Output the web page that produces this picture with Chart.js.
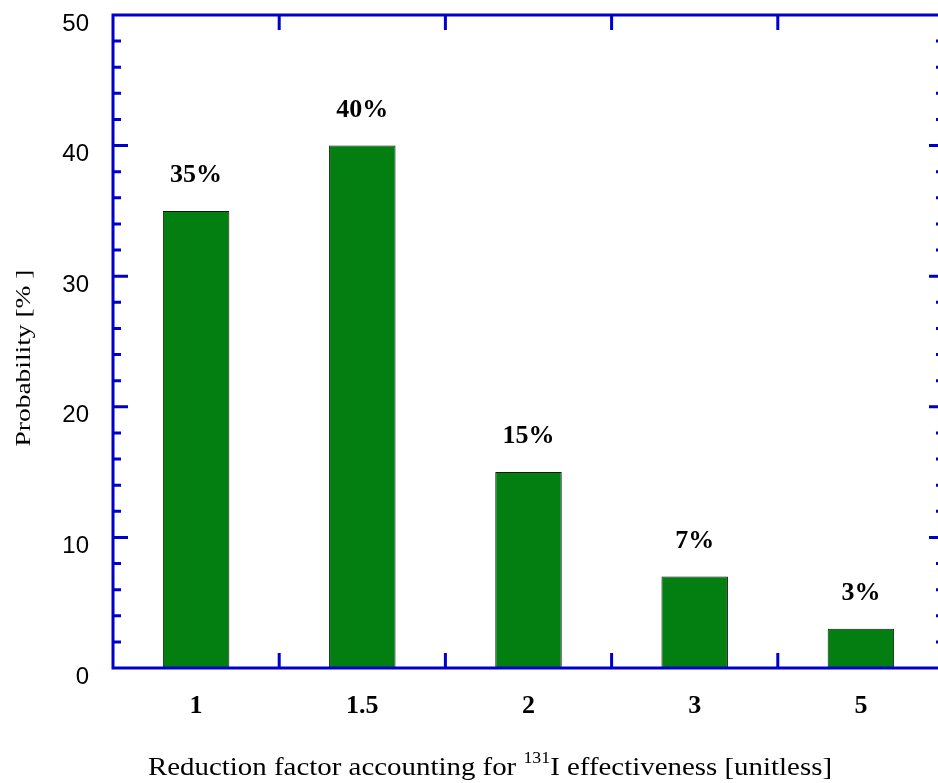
<!DOCTYPE html>
<html>
<head>
<meta charset="utf-8">
<script src="https://cdn.jsdelivr.net/npm/chart.js@4/dist/chart.umd.min.js"></script>
<style>
  html, body { margin: 0; padding: 0; overflow: hidden; background: #fff; }
  #wrap { width: 950px; height: 783px; position: relative; }
</style>
</head>
<body>
<div id="wrap"><canvas id="c" width="950" height="783"></canvas></div>
<script>
// Reduction factor categories and their probabilities (%)
const categories = ['1', '1.5', '2', '3', '5'];
const probability = [35, 40, 15, 7, 3];
const yMajorStep = 10;
const yMinorStep = 2;
const yMin = 0;
const yMax = 50;

const AXIS_BLUE = '#0000cc';
const BAR_GREEN = '#037f11';

// Blue box frame with inward major/minor ticks on all four sides
const framePlugin = {
  id: 'frame',
  afterDatasetsDraw(chart) {
    const { ctx, chartArea: a, scales: { x, y } } = chart;
    ctx.save();
    ctx.strokeStyle = AXIS_BLUE;
    ctx.lineWidth = 3;
    ctx.lineCap = 'butt';
    ctx.beginPath();
    ctx.moveTo(a.left, a.top); ctx.lineTo(a.right, a.top);
    ctx.moveTo(a.left, a.bottom); ctx.lineTo(a.right, a.bottom);
    ctx.moveTo(a.left, a.top - 1.5); ctx.lineTo(a.left, a.bottom + 1.5);
    ctx.moveTo(a.right, a.top - 1.5); ctx.lineTo(a.right, a.bottom + 1.5);
    // y ticks: major every 10, minor every 2
    for (let v = yMin; v <= yMax + 1e-9; v += yMinorStep) {
      const py = y.getPixelForValue(v);
      const major = Math.abs(v % yMajorStep) < 1e-9;
      const len = major ? 15 : 8;
      ctx.moveTo(a.left, py); ctx.lineTo(a.left + len, py);
      ctx.moveTo(a.right, py); ctx.lineTo(a.right - len, py);
    }
    // x ticks at category boundaries
    const half = (x.getPixelForValue(1) - x.getPixelForValue(0)) / 2;
    for (let i = 1; i < categories.length; i++) {
      const px = x.getPixelForValue(i) - half;
      ctx.moveTo(px, a.bottom); ctx.lineTo(px, a.bottom - 15);
      ctx.moveTo(px, a.top); ctx.lineTo(px, a.top + 15);
    }
    ctx.stroke();
    ctx.restore();
  }
};

// Percentage labels above each bar
const valueLabelPlugin = {
  id: 'valueLabels',
  afterDatasetsDraw(chart) {
    const { ctx } = chart;
    const meta = chart.getDatasetMeta(0);
    ctx.save();
    ctx.fillStyle = '#000';
    ctx.font = 'bold 26px "Liberation Serif", "Times New Roman", serif';
    ctx.textAlign = 'center';
    ctx.textBaseline = 'alphabetic';
    meta.data.forEach((bar, i) => {
      ctx.fillText(probability[i] + '%', bar.x, bar.y - 29);
    });
    ctx.restore();
  }
};

// Axis titles (x title carries a superscript mass number)
const titlesPlugin = {
  id: 'titles',
  afterDraw(chart) {
    const { ctx } = chart;
    ctx.save();
    ctx.fillStyle = '#000';
    ctx.textBaseline = 'alphabetic';

    // y title
    ctx.font = '22px "Liberation Serif", "Times New Roman", serif';
    const yTitle = 'Probability [% ]';
    const yw = ctx.measureText(yTitle).width;
    ctx.translate(30, 358);
    ctx.rotate(-Math.PI / 2);
    ctx.scale(177 / yw, 1);
    ctx.textAlign = 'center';
    ctx.fillText(yTitle, 0, 0);
    ctx.setTransform(1, 0, 0, 1, 0, 0);

    // x title
    const mainFont = '26px "Liberation Serif", "Times New Roman", serif';
    const supFont = '16px "Liberation Serif", "Times New Roman", serif';
    const partA = 'Reduction factor accounting for ';
    const sup = '131';
    const partB = 'I effectiveness [unitless]';
    ctx.font = mainFont; const wA = ctx.measureText(partA).width; const wB = ctx.measureText(partB).width;
    ctx.font = supFont; const wS = ctx.measureText(sup).width;
    const total = wA + wS + wB;
    const left = 148, right = 832, base = 775;
    ctx.translate(left, base);
    ctx.scale((right - left) / total, 1);
    ctx.textAlign = 'left';
    ctx.font = mainFont; ctx.fillText(partA, 0, 0);
    ctx.font = supFont; ctx.fillText(sup, wA, -12);
    ctx.font = mainFont; ctx.fillText(partB, wA + wS, 0);
    ctx.restore();
  }
};

new Chart(document.getElementById('c'), {
  type: 'bar',
  data: {
    labels: categories,
    datasets: [{
      data: probability,
      backgroundColor: BAR_GREEN,
      borderColor: '#0a1a0a',
      borderWidth: 1,
      borderSkipped: false,
      barPercentage: 0.4,
      categoryPercentage: 1.0
    }]
  },
  options: {
    responsive: false,
    devicePixelRatio: 1,
    animation: false,
    layout: { padding: { top: 15, right: 6, left: 0, bottom: 0 } },
    plugins: { legend: { display: false }, tooltip: { enabled: false } },
    scales: {
      x: {
        type: 'category',
        offset: true,
        grid: { display: false, drawTicks: false, offset: true },
        border: { display: false },
        ticks: {
          color: '#000',
          font: { family: '"Liberation Serif", "Times New Roman", serif', size: 26, weight: 'bold' },
          padding: 23,
          maxRotation: 0
        },
        afterFit(s) { s.height = 115; s.paddingLeft = 0; s.paddingRight = 0; }
      },
      y: {
        min: yMin,
        max: yMax,
        grid: { display: false, drawTicks: false },
        border: { display: false },
        ticks: {
          stepSize: yMajorStep,
          color: '#000',
          font: { family: '"Liberation Sans", Arial, sans-serif', size: 24 },
          padding: 24,
          labelOffset: 9
        },
        afterFit(s) { s.width = 113; s.paddingTop = 0; s.paddingBottom = 0; }
      }
    }
  },
  plugins: [framePlugin, valueLabelPlugin, titlesPlugin]
});
</script>
</body>
</html>
